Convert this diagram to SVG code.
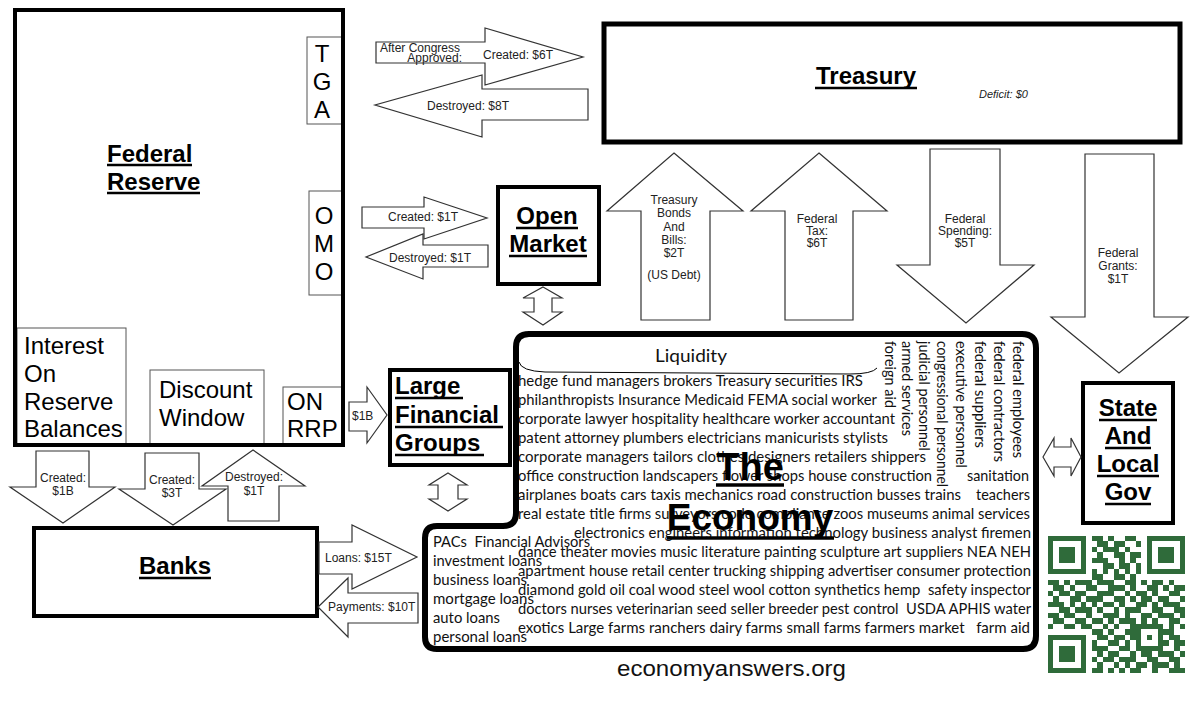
<svg xmlns="http://www.w3.org/2000/svg" xmlns:xlink="http://www.w3.org/1999/xlink" width="1194" height="710" viewBox="0 0 1194 710">
<style>
.thick{fill:#fff;stroke:#000;stroke-width:4}
.frame{fill:none;stroke:#000;stroke-width:4}
.thin{fill:#fff;stroke:#555;stroke-width:1}
.arr{fill:#fff;stroke:#333;stroke-width:1.2;stroke-linejoin:miter}
.lbl{font-family:"Liberation Sans",Arial,sans-serif;font-size:12px;fill:#222}
.lblc{font-family:"Liberation Sans",Arial,sans-serif;font-size:12px;fill:#222;text-anchor:middle}
.big{font-family:"Liberation Sans",Arial,sans-serif;font-weight:bold;font-size:24px;fill:#000}
.bigc{font-family:"Liberation Sans",Arial,sans-serif;font-weight:bold;font-size:24px;fill:#000;text-anchor:middle}
.reg{font-family:"Liberation Sans",Arial,sans-serif;font-size:24px;fill:#000}
.regc{font-family:"Liberation Sans",Arial,sans-serif;font-size:24px;fill:#000;text-anchor:middle}
.eco{font-family:Lato,"Open Sans",sans-serif;font-size:15px;fill:#111;white-space:pre}
.ul{stroke:#000;stroke-width:2.5}
</style>
<defs>
<path id="finder" d="M0 0h7v7h-7z M1 1v5h5v-5z M2 2h3v3h-3z" fill-rule="evenodd"/>
</defs>

<g id="federal-reserve">
<rect x="15" y="10" width="328" height="435" fill="#fff"/>
<rect class="thin" x="307" y="37" width="36" height="87"/>
<rect class="thin" x="309" y="191" width="34" height="104"/>
<rect class="thin" x="17" y="328" width="109" height="117"/>
<rect class="thin" x="150" y="370" width="114" height="75"/>
<rect class="thin" x="283" y="387" width="60" height="58"/>
<rect class="frame" x="15" y="10" width="328" height="435"/>
<text class="big" x="107" y="162">Federal</text>
<line class="ul" x1="107" y1="165" x2="192" y2="165"/>
<text class="big" x="107" y="190">Reserve</text>
<line class="ul" x1="107" y1="193" x2="200" y2="193"/>
<text class="regc" x="322" y="62">T</text>
<text class="regc" x="322" y="90">G</text>
<text class="regc" x="322" y="118">A</text>
<text class="regc" x="324" y="224">O</text>
<text class="regc" x="324" y="252">M</text>
<text class="regc" x="324" y="280">O</text>
<text class="reg" x="24" y="354">Interest</text>
<text class="reg" x="24" y="382">On</text>
<text class="reg" x="24" y="410">Reserve</text>
<text class="reg" x="24" y="437">Balances</text>
<text class="reg" x="159" y="398">Discount</text>
<text class="reg" x="159" y="426">Window</text>
<text class="reg" x="287" y="410">ON</text>
<text class="reg" x="287" y="437">RRP</text>
</g>

<g id="treasury">
<rect x="604" y="24" width="576" height="118" fill="#fff" stroke="#000" stroke-width="5"/>
<text class="bigc" x="866" y="84">Treasury</text>
<line class="ul" x1="815" y1="88" x2="917" y2="88"/>
<text x="979" y="98" font-family="Liberation Sans, Arial, sans-serif" font-size="11" font-style="italic" fill="#222">Deficit: $0</text>
</g>

<g id="open-market">
<rect class="thick" x="498" y="187" width="101" height="97"/>
<text class="bigc" x="547" y="224">Open</text>
<line class="ul" x1="516" y1="228" x2="578" y2="228"/>
<text class="bigc" x="548" y="252">Market</text>
<line class="ul" x1="509" y1="256" x2="587" y2="256"/>
</g>

<g id="large-financial-groups">
<rect class="thick" x="390" y="370" width="120" height="95"/>
<text class="big" x="395" y="394" font-size="25">Large</text>
<line class="ul" x1="395" y1="398" x2="463" y2="398"/>
<text class="big" x="395" y="423" font-size="25">Financial</text>
<line class="ul" x1="395" y1="427" x2="503" y2="427"/>
<text class="big" x="395" y="451" font-size="25">Groups</text>
<line class="ul" x1="395" y1="455" x2="484" y2="455"/>
</g>

<g id="banks">
<rect class="thick" x="34" y="528" width="283" height="88"/>
<text class="bigc" x="175" y="574">Banks</text>
<line class="ul" x1="139" y1="578" x2="211" y2="578"/>
</g>

<g id="state-local-gov">
<rect class="thick" x="1083" y="383" width="90" height="140"/>
<text class="bigc" x="1128" y="416">State</text>
<line class="ul" x1="1099" y1="420" x2="1157" y2="420"/>
<text class="bigc" x="1128" y="444">And</text>
<line class="ul" x1="1105" y1="448" x2="1151" y2="448"/>
<text class="bigc" x="1128" y="472">Local</text>
<line class="ul" x1="1097" y1="476" x2="1159" y2="476"/>
<text class="bigc" x="1128" y="500">Gov</text>
<line class="ul" x1="1105" y1="504" x2="1151" y2="504"/>
</g>

<g id="connectors">
<polygon class="arr" points="376,42 485,42 485,28 583,57 485,85 485,63 376,63"/>
<text class="lbl" x="380" y="52">After Congress</text>
<text class="lbl" x="462" y="62" text-anchor="end">Approved:</text>
<text class="lbl" x="483" y="59">Created: $6T</text>
<polygon class="arr" points="588,89 482,89 482,75 375,105 482,137 482,120 588,120"/>
<text class="lbl" x="427" y="110">Destroyed: $8T</text>

<polygon class="arr" points="362,207 424,207 424,197 487,218 424,239 424,228 362,228"/>
<text class="lbl" x="388" y="221">Created: $1T</text>
<polygon class="arr" points="488,245 423,245 423,234 366,257 423,279 423,267 488,267"/>
<text class="lbl" x="389" y="262">Destroyed: $1T</text>

<polygon class="arr" points="543,287 562,298 552,298 552,312 562,312 543,325 523,312 534,312 534,298 523,298"/>
<polygon class="arr" points="448,473 467,485 458,485 458,499 467,499 448,511 429,499 438,499 438,485 429,485"/>
<polygon class="arr" points="1043,457 1054,438 1054,447 1071,447 1071,438 1081,457 1071,476 1071,467 1054,467 1054,476"/>

<polygon class="arr" points="349,402 367,402 367,387 387,415 367,443 367,431 349,431"/>
<text class="lbl" x="352" y="420">$1B</text>

<polygon class="arr" points="36,451 89,451 89,487 115,487 63,523 10,487 36,487"/>
<text class="lblc" x="63" y="482">Created:</text>
<text class="lblc" x="63" y="495">$1B</text>
<polygon class="arr" points="145,453 199,453 199,489 226,489 173,525 119,489 145,489"/>
<text class="lblc" x="172" y="484">Created:</text>
<text class="lblc" x="172" y="497">$3T</text>
<polygon class="arr" points="228,521 279,521 279,486 305,486 253,450 202,486 228,486"/>
<text class="lblc" x="254" y="481">Destroyed:</text>
<text class="lblc" x="254" y="495">$1T</text>

<polygon class="arr" points="319,542 352,542 352,525 417,557 352,589 352,574 319,574"/>
<text class="lbl" x="325" y="562">Loans: $15T</text>
<polygon class="arr" points="418,593 348,593 348,578 318,607 348,637 348,623 418,623"/>
<text class="lbl" x="328" y="611">Payments: $10T</text>

<polygon class="arr" points="674,153 743,211 710,211 710,320 641,320 641,211 607,211"/>
<text class="lblc" x="674" y="204">Treasury</text>
<text class="lblc" x="674" y="217">Bonds</text>
<text class="lblc" x="674" y="231">And</text>
<text class="lblc" x="674" y="244">Bills:</text>
<text class="lblc" x="674" y="257">$2T</text>
<text class="lblc" x="674" y="279">(US Debt)</text>
<polygon class="arr" points="819,153 887,211 853,211 853,320 785,320 785,211 751,211"/>
<text class="lblc" x="817" y="223">Federal</text>
<text class="lblc" x="817" y="235">Tax:</text>
<text class="lblc" x="817" y="247">$6T</text>
<polygon class="arr" points="930,149 1000,149 1000,265 1034,265 966,323 897,265 930,265"/>
<text class="lblc" x="965" y="223">Federal</text>
<text class="lblc" x="965" y="235">Spending:</text>
<text class="lblc" x="965" y="247">$5T</text>
<polygon class="arr" points="1085,154 1154,154 1154,317 1188,317 1119,373 1051,317 1085,317"/>
<text class="lblc" x="1118" y="257">Federal</text>
<text class="lblc" x="1118" y="270">Grants:</text>
<text class="lblc" x="1118" y="283">$1T</text>
</g>

<g id="the-economy">
<path d="M529 334 H1022 Q1036 334 1036 348 V636 Q1036 649 1023 649 H437 Q425 649 425 637 V538 Q425 526 437 526 H503 Q516 526 516 513 V347 Q516 334 529 334 Z" fill="#fff" stroke="#000" stroke-width="6"/>
<path d="M519 362 Q521 371 545 372 L850 374 Q872 374 877 368" fill="none" stroke="#000" stroke-width="1"/>
<text x="655" y="362" font-family="Lato, 'Open Sans', sans-serif" font-size="17" fill="#111" textLength="72" lengthAdjust="spacingAndGlyphs">Liquidity</text>
<text class="eco" x="518" y="386" textLength="345" lengthAdjust="spacingAndGlyphs">hedge fund managers brokers Treasury securities IRS</text>
<text class="eco" x="518" y="405" textLength="359" lengthAdjust="spacingAndGlyphs">philanthropists Insurance Medicaid FEMA social worker</text>
<text class="eco" x="518" y="424" textLength="377" lengthAdjust="spacingAndGlyphs">corporate lawyer hospitality healthcare worker accountant</text>
<text class="eco" x="518" y="443" textLength="370" lengthAdjust="spacingAndGlyphs">patent attorney plumbers electricians manicurists stylists</text>
<text class="eco" x="518" y="462" textLength="408" lengthAdjust="spacingAndGlyphs">corporate managers tailors clothes designers retailers shippers</text>
<text class="eco" x="518" y="481" textLength="414" lengthAdjust="spacingAndGlyphs">office construction landscapers flower shops house construction</text>
<text class="eco" x="967" y="481" textLength="62" lengthAdjust="spacingAndGlyphs">sanitation</text>
<text class="eco" x="518" y="500" textLength="443" lengthAdjust="spacingAndGlyphs">airplanes boats cars taxis mechanics road construction busses trains</text>
<text class="eco" x="976" y="500" textLength="54" lengthAdjust="spacingAndGlyphs">teachers</text>
<text class="eco" x="518" y="519" textLength="512" lengthAdjust="spacingAndGlyphs">real estate title firms surveyors code compliance zoos museums animal services</text>
<text class="eco" x="574" y="538" textLength="457" lengthAdjust="spacingAndGlyphs">electronics engineers information technology business analyst firemen</text>
<text class="eco" x="518" y="557" textLength="513" lengthAdjust="spacingAndGlyphs">dance theater movies music literature painting sculpture art suppliers NEA NEH</text>
<text class="eco" x="518" y="576" textLength="513" lengthAdjust="spacingAndGlyphs">apartment house retail center trucking shipping advertiser consumer protection</text>
<text class="eco" x="518" y="595" textLength="513" lengthAdjust="spacingAndGlyphs" xml:space="preserve">diamond gold oil coal wood steel wool cotton synthetics hemp  safety inspector</text>
<text class="eco" x="518" y="614" textLength="513" lengthAdjust="spacingAndGlyphs" xml:space="preserve">doctors nurses veterinarian seed seller breeder pest control  USDA APHIS water</text>
<text class="eco" x="518" y="633" textLength="512" lengthAdjust="spacingAndGlyphs" xml:space="preserve">exotics Large farms ranchers dairy farms small farms farmers market   farm aid</text>
<text class="eco" x="433" y="547" textLength="157" lengthAdjust="spacingAndGlyphs" xml:space="preserve">PACs  Financial Advisors</text>
<text class="eco" x="433" y="566" textLength="109" lengthAdjust="spacingAndGlyphs">investment loans</text>
<text class="eco" x="433" y="585" textLength="94" lengthAdjust="spacingAndGlyphs">business loans</text>
<text class="eco" x="433" y="604" textLength="101" lengthAdjust="spacingAndGlyphs">mortgage loans</text>
<text class="eco" x="433" y="623" textLength="67" lengthAdjust="spacingAndGlyphs">auto loans</text>
<text class="eco" x="433" y="642" textLength="94" lengthAdjust="spacingAndGlyphs">personal loans</text>
<text class="eco" transform="translate(1013,341) rotate(90)" textLength="117" lengthAdjust="spacingAndGlyphs">federal employees</text>
<text class="eco" transform="translate(994,341) rotate(90)" textLength="121" lengthAdjust="spacingAndGlyphs">federal contractors</text>
<text class="eco" transform="translate(975,341) rotate(90)" textLength="107" lengthAdjust="spacingAndGlyphs">federal suppliers</text>
<text class="eco" transform="translate(956,341) rotate(90)" textLength="127" lengthAdjust="spacingAndGlyphs">executive personnel</text>
<text class="eco" transform="translate(937,341) rotate(90)" textLength="146" lengthAdjust="spacingAndGlyphs">congressional personnel</text>
<text class="eco" transform="translate(919,341) rotate(90)" textLength="110" lengthAdjust="spacingAndGlyphs">judicial personnel</text>
<text class="eco" transform="translate(902,341) rotate(90)" textLength="95" lengthAdjust="spacingAndGlyphs">armed services</text>
<text class="eco" transform="translate(885,341) rotate(90)" textLength="67" lengthAdjust="spacingAndGlyphs">foreign aid</text>
<text x="750" y="480" font-family="Liberation Sans, Arial, sans-serif" font-weight="bold" font-size="38" text-anchor="middle" fill="#000">The</text>
<line x1="716" y1="485" x2="784" y2="485" stroke="#000" stroke-width="3.5"/>
<text x="750" y="530" font-family="Liberation Sans, Arial, sans-serif" font-weight="bold" font-size="37" text-anchor="middle" fill="#000">Economy</text>
<line x1="667" y1="538" x2="834" y2="538" stroke="#000" stroke-width="3.5"/>
</g>

<text x="617" y="676" font-family="Liberation Sans, Arial, sans-serif" font-size="22" fill="#111" textLength="229" lengthAdjust="spacingAndGlyphs">economyanswers.org</text>

<g id="qr-code" transform="translate(1048,536) scale(5.48)" fill="#2f6b3a" shape-rendering="crispEdges">
<use xlink:href="#finder" href="#finder" x="0" y="0"/>
<use xlink:href="#finder" href="#finder" x="18" y="0"/>
<use xlink:href="#finder" href="#finder" x="0" y="18"/>
<path fill-rule="evenodd" d="M16 16h5v5h-5z M17 17v3h3v-3z M18 18h1v1h-1z"/>
<path d="M8 0h2v1h-2z M11 0h1v1h-1z M14 0h2v1h-2z M9 1h2v1h-2z M12 1h2v1h-2z M16 1h1v1h-1z M8 2h1v1h-1z M10 2h3v1h-3z M14 2h1v1h-1z M9 3h1v1h-1z M12 3h2v1h-2z M15 3h2v1h-2z M8 4h3v1h-3z M13 4h1v1h-1z M15 4h1v1h-1z M10 5h2v1h-2z M13 5h2v1h-2z M16 5h1v1h-1z M8 6h1v1h-1z M10 6h1v1h-1z M12 6h1v1h-1z M14 6h1v1h-1z M16 6h1v1h-1z M8 7h2v1h-2z M12 7h2v1h-2z M15 7h1v1h-1z M0 8h2v1h-2z M3 8h1v1h-1z M5 8h3v1h-3z M9 8h3v1h-3z M14 8h2v1h-2z M17 8h1v1h-1z M19 8h2v1h-2z M22 8h1v1h-1z M1 9h2v1h-2z M4 9h1v1h-1z M7 9h2v1h-2z M11 9h3v1h-3z M15 9h1v1h-1z M18 9h2v1h-2z M21 9h1v1h-1z M23 9h2v1h-2z M0 10h1v1h-1z M2 10h2v1h-2z M5 10h2v1h-2z M9 10h3v1h-3z M14 10h1v1h-1z M16 10h2v1h-2z M19 10h1v1h-1z M22 10h2v1h-2z M1 11h1v1h-1z M4 11h2v1h-2z M7 11h3v1h-3z M12 11h2v1h-2z M15 11h1v1h-1z M17 11h2v1h-2z M20 11h2v1h-2z M24 11h1v1h-1z M0 12h3v1h-3z M4 12h1v1h-1z M6 12h1v1h-1z M8 12h1v1h-1z M10 12h2v1h-2z M13 12h1v1h-1z M16 12h2v1h-2z M19 12h1v1h-1z M21 12h3v1h-3z M2 13h2v1h-2z M5 13h3v1h-3z M9 13h1v1h-1z M12 13h1v1h-1z M14 13h3v1h-3z M19 13h2v1h-2z M23 13h2v1h-2z M0 14h2v1h-2z M3 14h2v1h-2z M7 14h1v1h-1z M10 14h3v1h-3z M14 14h1v1h-1z M17 14h2v1h-2z M20 14h3v1h-3z M24 14h1v1h-1z M1 15h2v1h-2z M5 15h2v1h-2z M8 15h2v1h-2z M11 15h1v1h-1z M13 15h3v1h-3z M17 15h1v1h-1z M19 15h1v1h-1z M22 15h2v1h-2z M0 16h1v1h-1z M3 16h2v1h-2z M6 16h2v1h-2z M10 16h1v1h-1z M12 16h1v1h-1z M15 16h1v1h-1z M22 16h1v1h-1z M24 16h1v1h-1z M8 17h2v1h-2z M11 17h1v1h-1z M14 17h2v1h-2z M21 17h2v1h-2z M9 18h2v1h-2z M12 18h2v1h-2z M15 18h1v1h-1z M22 18h2v1h-2z M8 19h1v1h-1z M11 19h2v1h-2z M14 19h1v1h-1z M21 19h1v1h-1z M23 19h2v1h-2z M8 20h3v1h-3z M13 20h2v1h-2z M23 20h1v1h-1z M9 21h1v1h-1z M11 21h2v1h-2z M15 21h1v1h-1z M17 21h2v1h-2z M20 21h3v1h-3z M24 21h1v1h-1z M8 22h1v1h-1z M10 22h2v1h-2z M13 22h3v1h-3z M18 22h2v1h-2z M22 22h2v1h-2z M9 23h1v1h-1z M12 23h1v1h-1z M14 23h1v1h-1z M16 23h2v1h-2z M19 23h3v1h-3z M23 23h1v1h-1z M8 24h2v1h-2z M11 24h1v1h-1z M13 24h1v1h-1z M15 24h2v1h-2z M19 24h1v1h-1z M22 24h3v1h-3z"/>
</g>
</svg>
